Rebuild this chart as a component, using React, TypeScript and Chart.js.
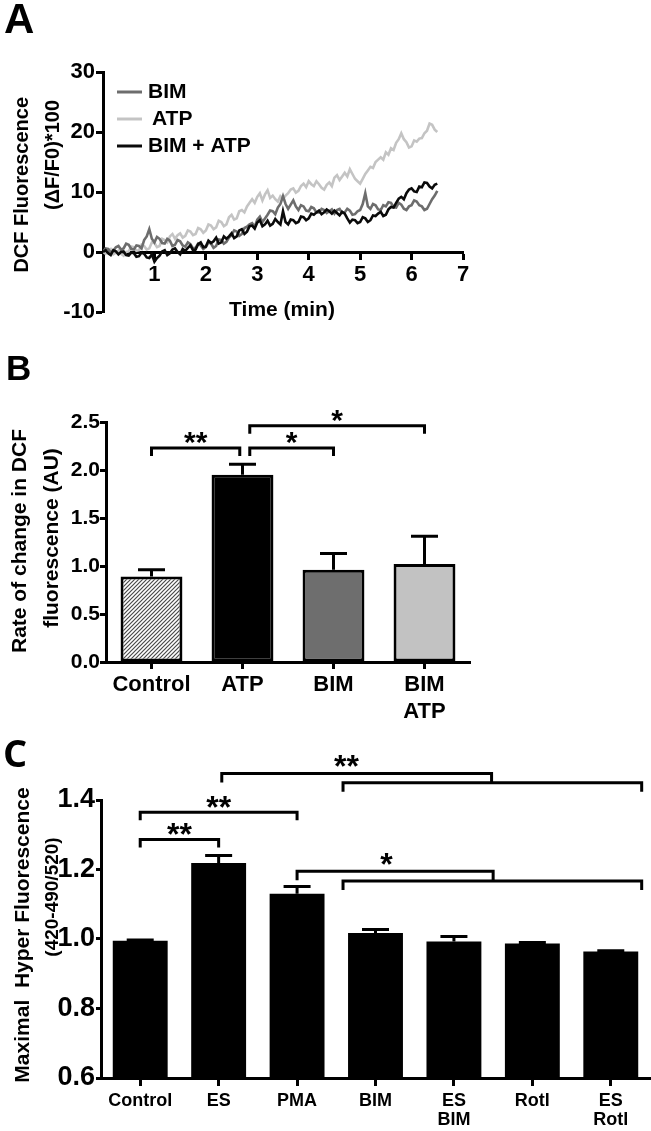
import React, { useEffect, useRef } from 'react';
import { Chart, registerables } from 'chart.js';

Chart.register(...registerables);

const SANS = '"Liberation Sans", Arial, sans-serif';

// ---------- Panel A : DCF fluorescence traces ----------
const timeMin = [
  0, 0.05, 0.1, 0.15, 0.2, 0.25, 0.3, 0.35, 0.4, 0.45,
  0.5, 0.55, 0.6, 0.65, 0.7, 0.75, 0.8, 0.85, 0.9, 0.95,
  1.0, 1.05, 1.1, 1.15, 1.2, 1.25, 1.3, 1.35, 1.4, 1.45,
  1.5, 1.55, 1.6, 1.65, 1.7, 1.75, 1.8, 1.85, 1.9, 1.95,
  2.0, 2.05, 2.1, 2.15, 2.2, 2.25, 2.3, 2.35, 2.4, 2.45,
  2.5, 2.55, 2.6, 2.65, 2.7, 2.75, 2.8, 2.85, 2.9, 2.95,
  3.0, 3.05, 3.1, 3.15, 3.2, 3.25, 3.3, 3.35, 3.4, 3.45,
  3.5, 3.55, 3.6, 3.65, 3.7, 3.75, 3.8, 3.85, 3.9, 3.95,
  4.0, 4.05, 4.1, 4.15, 4.2, 4.25, 4.3, 4.35, 4.4, 4.45,
  4.5, 4.55, 4.6, 4.65, 4.7, 4.75, 4.8, 4.85, 4.9, 4.95,
  5.0, 5.05, 5.1, 5.15, 5.2, 5.25, 5.3, 5.35, 5.4, 5.45,
  5.5, 5.55, 5.6, 5.65, 5.7, 5.75, 5.8, 5.85, 5.9, 5.95,
  6.0, 6.05, 6.1, 6.15, 6.2, 6.25, 6.3, 6.35, 6.4, 6.45,
  6.5,
];
const bimTrace = [
  0, 0.6, 0.5, -0.1, 0.2, 0.8, 1.0, 0.4, 0.6, 1.4,
  1.2, 0.5, 0.4, 1.1, 1.0, 0.6, 2.0, 2.6, 3.8, 2.2,
  1.6, 2.5, 2.2, 1.5, 1.4, 2.2, 1.9, 1.0, 1.2, 2.0,
  1.8, 1.1, 0.9, 1.6, 1.3, 0.6, 0.7, 1.4, 1.1, 0.5,
  0.8, 1.6, 1.4, 0.7, 1.0, 2.1, 2.0, 1.4, 1.7, 2.4,
  2.8, 3.6, 3.4, 2.7, 3.0, 4.0, 4.2, 4.6, 4.8, 4.2,
  5.4, 5.9, 5.0, 5.6, 6.2, 6.9, 6.8, 6.3, 7.4, 8.0,
  9.3, 8.0, 7.2, 7.9, 8.6, 7.6, 7.0, 7.8, 7.6, 6.9,
  6.8, 7.5, 7.3, 6.6, 6.6, 7.2, 7.0, 6.5, 6.8, 7.1,
  6.4, 7.0, 7.2, 6.5, 6.6, 7.2, 6.9, 6.2, 6.3, 6.8,
  7.0, 8.0, 9.8, 7.6, 7.2, 8.0, 7.8, 7.1, 7.0, 7.8,
  7.6, 8.3, 8.2, 7.5, 7.4, 8.2, 7.9, 7.2, 7.0, 7.6,
  7.8, 8.6, 8.4, 7.8, 7.6, 7.0, 7.2, 8.0, 8.8, 9.4,
  10.2,
];
const atpTrace = [
  0, -0.3, 0.3, 0.5, -0.4, -0.1, 0.2, -0.3, -0.6, 0.0,
  0.1, 0.9, 0.8, 0.2, 0.3, 1.2, 1.0, 0.4, 0.6, 1.6,
  1.5, 0.8, 1.0, 2.2, 2.0, 1.6, 2.6, 3.0, 2.2, 2.8,
  3.1, 2.4, 2.7, 3.6, 3.4, 2.8, 3.0, 4.0, 3.8, 3.2,
  3.6, 4.6, 4.4, 3.8, 4.1, 5.2, 5.0, 4.3, 4.6, 5.8,
  6.2, 5.4, 5.6, 6.8, 7.0, 6.6, 7.6, 8.2, 8.8, 8.2,
  9.2, 9.8, 8.6, 9.6, 10.3, 9.0, 9.4, 8.8, 8.4, 9.3,
  8.9, 9.4, 9.8, 10.4, 10.6, 9.9, 10.2, 11.0, 11.4, 10.8,
  11.8, 11.3, 11.0, 11.8, 11.3, 10.7, 10.4, 11.2, 11.6, 11.0,
  12.4, 12.8, 12.0, 12.6, 13.2, 12.6, 13.8, 13.0, 12.2, 11.8,
  11.4, 12.2, 13.0, 13.6, 14.2, 14.0, 15.0, 15.4, 15.8, 15.4,
  16.6, 16.2, 17.3, 17.0, 18.2, 18.8, 19.8, 18.8, 18.3, 17.4,
  17.6, 18.6, 18.4, 18.9, 19.0, 19.8, 20.2, 21.4, 21.2, 20.4,
  20.0,
];
const bimAtpTrace = [
  0, 0.3, -0.2, -0.5, 0.3, 0.1, -0.4, 0.0, 0.1, -0.5,
  -0.6, -0.1, -0.2, -0.8, -0.7, -0.1, -0.3, -0.9, -1.0, -0.4,
  -1.6, -1.0, -0.6, 0.1, 0.3, -0.5, -0.2, 0.4, 0.6, 0.0,
  -0.4, 0.5, 0.2, 0.7, 1.1, 0.3, 0.4, 1.3, 1.6, 0.8,
  0.9, 1.9, 1.5, 1.8, 2.4, 1.4, 1.6, 2.6, 2.2, 2.6,
  3.1, 2.3, 2.6, 3.6, 3.8, 3.0, 3.4, 4.3, 4.4, 3.9,
  4.9, 5.3, 4.3, 4.6, 5.2, 4.4, 4.7, 5.5, 5.0, 4.6,
  6.8, 5.0, 4.6, 5.4, 5.3, 4.8, 5.0, 5.9, 5.8, 5.3,
  5.6, 6.4, 6.2, 6.6, 6.9, 6.3, 6.6, 7.1, 6.8, 6.4,
  6.9, 6.5, 6.1, 6.7, 6.4, 5.6, 4.9, 5.4, 5.3, 4.8,
  5.0, 5.8, 5.6, 5.0, 5.3, 6.1, 6.0, 6.4, 6.7, 6.0,
  6.2, 7.1, 7.5, 7.4, 8.2, 8.9, 9.2, 8.8, 9.8, 10.4,
  10.6, 10.1, 10.0, 10.9, 10.8, 11.6, 11.5, 10.9, 10.6, 11.2,
  11.4,
];
const traceLabels = ['BIM', 'ATP', 'BIM + ATP'];
const traceColors = ['#6d6d6d', '#c4c4c4', '#0a0a0a'];

// ---------- Panel B : rate of change ----------
const catsB = ['Control', 'ATP', 'BIM', ['BIM', 'ATP']];
const rateMean = [0.89, 1.95, 0.96, 1.02];
const rateSem = [0.07, 0.11, 0.17, 0.29];
const sigB = [
  { from: 0, to: 0.97, y: 2.23, stars: '**' },
  { from: 1.08, to: 2, y: 2.23, stars: '*' },
  { from: 1.08, to: 3, y: 2.46, stars: '*' },
];

// ---------- Panel C : HyPer fluorescence ----------
const catsC = ['Control', 'ES', 'PMA', 'BIM', ['ES', 'BIM'], 'Rotl', ['ES', 'Rotl']];
const hyperMean = [0.995, 1.219, 1.13, 1.017, 0.993, 0.987, 0.964];
const hyperSem = [0.002, 0.021, 0.021, 0.01, 0.014, 0.003, 0.002];
const sigPairsC = [
  { from: 0, to: 1, y: 1.286, stars: '**' },
  { from: 0, to: 2, y: 1.365, stars: '**' },
];
const sigGroupsC = [
  { from: 1.04, join: 4.48, y: 1.476, lowFrom: 2.586, lowTo: 6.394, lowY: 1.45, stars: '**', starAt: 2.63 },
  { from: 2.0, join: 4.5, y: 1.195, lowFrom: 2.586, lowTo: 6.394, lowY: 1.167, stars: '*', starAt: 3.14 },
];

const bold = (size: number, lineHeight?: number) =>
  ({ family: SANS, size, weight: 'bold' as const, ...(lineHeight ? { lineHeight } : {}) });

type TextItem = {
  text: string; x: number; y: number; font: string;
  rot?: boolean; align?: CanvasTextAlign; baseline?: CanvasTextBaseline;
};

function textPlugin(id: string, items: TextItem[]) {
  return {
    id,
    afterDraw(chart: any) {
      const ctx: CanvasRenderingContext2D = chart.ctx;
      items.forEach((it) => {
        ctx.save();
        ctx.fillStyle = '#000';
        ctx.font = it.font;
        ctx.translate(it.x, it.y);
        if (it.rot) ctx.rotate(-Math.PI / 2);
        ctx.textAlign = it.align || 'center';
        ctx.textBaseline = it.baseline || 'middle';
        ctx.fillText(it.text, 0, 0);
        ctx.restore();
      });
    },
  };
}

function errorBarPlugin(means: number[], sems: number[], capW: number) {
  return {
    id: 'errbars',
    afterDatasetsDraw(chart: any) {
      const ctx: CanvasRenderingContext2D = chart.ctx;
      const meta = chart.getDatasetMeta(0);
      const ys = chart.scales.y;
      ctx.save();
      ctx.strokeStyle = '#000';
      ctx.lineWidth = 3;
      meta.data.forEach((bar: any, i: number) => {
        const x = bar.x;
        const y0 = ys.getPixelForValue(means[i]);
        const y1 = ys.getPixelForValue(means[i] + sems[i]);
        ctx.beginPath();
        ctx.moveTo(x, y0);
        ctx.lineTo(x, y1);
        ctx.moveTo(x - capW / 2, y1);
        ctx.lineTo(x + capW / 2, y1);
        ctx.stroke();
      });
      ctx.restore();
    },
  };
}

function drawStars(ctx: CanvasRenderingContext2D, text: string, x: number, lineY: number, size: number) {
  ctx.font = `bold ${size}px ${SANS}`;
  ctx.textAlign = 'center';
  ctx.textBaseline = 'alphabetic';
  ctx.fillText(text, x, lineY - 12 + size * 0.55);
}

function pairBracketPlugin(list: { from: number; to: number; y: number; stars: string }[], drop: number, starSize: number) {
  return {
    id: 'pairs',
    afterDraw(chart: any) {
      const ctx: CanvasRenderingContext2D = chart.ctx;
      const xs = chart.scales.x;
      const ys = chart.scales.y;
      ctx.save();
      ctx.strokeStyle = '#000';
      ctx.fillStyle = '#000';
      ctx.lineWidth = 3;
      ctx.lineJoin = 'miter';
      list.forEach((b) => {
        const x1 = xs.getPixelForValue(b.from);
        const x2 = xs.getPixelForValue(b.to);
        const y = ys.getPixelForValue(b.y);
        ctx.beginPath();
        ctx.moveTo(x1, y + drop);
        ctx.lineTo(x1, y);
        ctx.lineTo(x2, y);
        ctx.lineTo(x2, y + drop);
        ctx.stroke();
        drawStars(ctx, b.stars, (x1 + x2) / 2, y, starSize);
      });
      ctx.restore();
    },
  };
}

function groupBracketPlugin(list: typeof sigGroupsC, drop: number, starSize: number) {
  return {
    id: 'groups',
    afterDraw(chart: any) {
      const ctx: CanvasRenderingContext2D = chart.ctx;
      const xs = chart.scales.x;
      const ys = chart.scales.y;
      ctx.save();
      ctx.strokeStyle = '#000';
      ctx.fillStyle = '#000';
      ctx.lineWidth = 3;
      list.forEach((g) => {
        const xl = xs.getPixelForValue(g.from);
        const xj = xs.getPixelForValue(g.join);
        const y1 = ys.getPixelForValue(g.y);
        const y2 = ys.getPixelForValue(g.lowY);
        const xa = xs.getPixelForValue(g.lowFrom);
        const xb = xs.getPixelForValue(g.lowTo);
        ctx.beginPath();
        ctx.moveTo(xl, y1 + drop);
        ctx.lineTo(xl, y1);
        ctx.lineTo(xj, y1);
        ctx.lineTo(xj, y2);
        ctx.stroke();
        ctx.beginPath();
        ctx.moveTo(xa, y2 + drop);
        ctx.lineTo(xa, y2);
        ctx.lineTo(xb, y2);
        ctx.lineTo(xb, y2 + drop);
        ctx.stroke();
        drawStars(ctx, g.stars, xs.getPixelForValue(g.starAt), y1 - 2, starSize);
      });
      ctx.restore();
    },
  };
}

const legendPluginA = {
  id: 'legendA',
  afterDraw(chart: any) {
    const ctx: CanvasRenderingContext2D = chart.ctx;
    const rows = [92, 119, 146];
    ctx.save();
    ctx.font = `bold 21px ${SANS}`;
    ctx.textAlign = 'left';
    ctx.textBaseline = 'middle';
    chart.data.datasets.forEach((ds: any, i: number) => {
      ctx.strokeStyle = ds.borderColor;
      ctx.lineWidth = 3;
      ctx.beginPath();
      ctx.moveTo(117, rows[i]);
      ctx.lineTo(142, rows[i]);
      ctx.stroke();
      ctx.fillStyle = '#000';
      ctx.fillText(ds.label, i === 1 ? 152 : 148, rows[i]);
    });
    ctx.restore();
  },
};

const axisGrid = (tickLength: number) => ({
  display: true,
  drawOnChartArea: false,
  drawTicks: true,
  tickLength,
  tickWidth: 3,
  tickColor: '#000',
  color: '#000',
  offset: false,
});
const axisBorder = { display: true, color: '#000', width: 3 };

export default function App() {
  const refA = useRef<HTMLCanvasElement>(null);
  const refB = useRef<HTMLCanvasElement>(null);
  const refC = useRef<HTMLCanvasElement>(null);

  useEffect(() => {
    Chart.defaults.color = '#000';
    Chart.defaults.font.family = SANS;
    const charts: Chart[] = [];

    // ----- Panel A -----
    const seriesA = [bimTrace, atpTrace, bimAtpTrace];
    charts.push(
      new Chart(refA.current!, {
        type: 'line',
        data: {
          datasets: seriesA.map((vals, k) => ({
            label: traceLabels[k],
            data: timeMin.map((t, i) => ({ x: t, y: vals[i] })),
            borderColor: traceColors[k],
            backgroundColor: traceColors[k],
            borderWidth: 2.6,
            pointRadius: 0,
            tension: 0,
            order: k === 2 ? 0 : k === 0 ? 1 : 2,
          })),
        },
        options: {
          animation: false,
          responsive: false,
          maintainAspectRatio: false,
          layout: { padding: { top: 72, bottom: 18, right: 188, left: 0 } },
          plugins: { legend: { display: false }, tooltip: { enabled: false } },
          scales: {
            x: {
              type: 'linear',
              min: 0,
              max: 7,
              position: { y: 0 } as any,
              border: axisBorder,
              grid: axisGrid(6),
              ticks: {
                stepSize: 1,
                padding: 4,
                color: '#000',
                font: bold(22),
                callback: (v: any) => (Number(v) === 0 ? '' : String(v)),
              },
            },
            y: {
              position: 'left',
              min: -10,
              max: 30,
              border: axisBorder,
              grid: axisGrid(7),
              ticks: { stepSize: 10, padding: 1, color: '#000', font: bold(22) },
              afterFit: (s: any) => { s.width = 103; },
            },
          },
        },
        plugins: [
          legendPluginA,
          textPlugin('textA', [
            { text: 'A', x: 4, y: 33, font: `bold 42px ${SANS}`, align: 'left', baseline: 'alphabetic' },
            { text: 'DCF Fluorescence', x: 22, y: 97, font: `bold 20px ${SANS}`, rot: true, align: 'right' },
            { text: '(\u0394F/F0)*100', x: 53, y: 100, font: `bold 20px ${SANS}`, rot: true, align: 'right' },
            { text: 'Time (min)', x: 282, y: 310, font: `bold 21px ${SANS}` },
          ]),
        ],
      } as any)
    );

    // ----- Panel B -----
    const tile = document.createElement('canvas');
    tile.width = 4;
    tile.height = 4;
    const tctx = tile.getContext('2d')!;
    tctx.fillStyle = '#ffffff';
    tctx.fillRect(0, 0, 4, 4);
    tctx.strokeStyle = '#4a4a4a';
    tctx.lineWidth = 1.2;
    tctx.beginPath();
    tctx.moveTo(-1, 5); tctx.lineTo(5, -1);
    tctx.moveTo(-1, 1); tctx.lineTo(1, -1);
    tctx.moveTo(3, 5); tctx.lineTo(5, 3);
    tctx.stroke();
    const ctxB = refB.current!.getContext('2d')!;
    const hatch = ctxB.createPattern(tile, 'repeat');

    charts.push(
      new Chart(refB.current!, {
        type: 'bar',
        data: {
          labels: catsB,
          datasets: [
            {
              data: rateMean,
              backgroundColor: [hatch, '#000000', '#6e6e6e', '#c2c2c2'],
              borderColor: '#000',
              borderWidth: 3,
              borderSkipped: false,
              barPercentage: 0.68,
              categoryPercentage: 1,
            },
          ],
        },
        options: {
          animation: false,
          responsive: false,
          maintainAspectRatio: false,
          layout: { padding: { top: 92, bottom: 0, right: 181, left: 0 } },
          plugins: { legend: { display: false }, tooltip: { enabled: false } },
          scales: {
            x: {
              border: axisBorder,
              grid: axisGrid(7),
              ticks: { padding: 3, color: '#000', font: bold(22) },
              afterFit: (s: any) => { s.height = 58; },
            },
            y: {
              min: 0,
              max: 2.5,
              border: axisBorder,
              grid: axisGrid(6),
              ticks: {
                stepSize: 0.5,
                padding: 0,
                color: '#000',
                font: bold(21),
                callback: (v: any) => Number(v).toFixed(1),
              },
              afterFit: (s: any) => { s.width = 106; },
            },
          },
        },
        plugins: [
          errorBarPlugin(rateMean, rateSem, 27),
          pairBracketPlugin(sigB, 8, 30),
          textPlugin('textB', [
            { text: 'B', x: 6, y: 50, font: `bold 35px ${SANS}`, align: 'left', baseline: 'alphabetic' },
            { text: 'Rate of change in DCF', x: 20, y: 211, font: `bold 21px ${SANS}`, rot: true },
            { text: 'fluorescence (AU)', x: 52, y: 208, font: `bold 21px ${SANS}`, rot: true },
          ]),
        ],
      } as any)
    );

    // ----- Panel C -----
    charts.push(
      new Chart(refC.current!, {
        type: 'bar',
        data: {
          labels: catsC,
          datasets: [
            {
              data: hyperMean,
              base: 0.6,
              backgroundColor: '#000000',
              borderColor: '#000',
              borderWidth: 0,
              barPercentage: 0.7,
              categoryPercentage: 1,
            },
          ],
        },
        options: {
          animation: false,
          responsive: false,
          maintainAspectRatio: false,
          layout: { padding: { top: 80, bottom: 0, right: 1, left: 0 } },
          plugins: { legend: { display: false }, tooltip: { enabled: false } },
          scales: {
            x: {
              border: axisBorder,
              grid: axisGrid(8),
              ticks: { padding: 6, color: '#000', font: bold(18, 1.05) },
              afterFit: (s: any) => { s.height = 53; },
            },
            y: {
              min: 0.6,
              max: 1.4,
              border: axisBorder,
              grid: axisGrid(5),
              ticks: {
                stepSize: 0.2,
                padding: 1,
                color: '#000',
                font: bold(27),
                callback: (v: any) => Number(v).toFixed(1),
              },
              afterFit: (s: any) => { s.width = 101; },
            },
          },
        },
        plugins: [
          errorBarPlugin(hyperMean, hyperSem, 27),
          pairBracketPlugin(sigPairsC, 8, 32),
          groupBracketPlugin(sigGroupsC, 9, 32),
          textPlugin('textC', [
            { text: 'C', x: 3, y: 47, font: `bold 38px "Open Sans", ${SANS}`, align: 'left', baseline: 'alphabetic' },
            { text: 'Maximal  Hyper Fluorescence', x: 23, y: 215, font: `bold 21px ${SANS}`, rot: true },
            { text: '(420-490/520)', x: 53, y: 177, font: `bold 19px ${SANS}`, rot: true },
          ]),
        ],
      } as any)
    );

    return () => charts.forEach((c) => c.destroy());
  }, []);

  return (
    <div style={{ position: 'absolute', left: 0, top: 0, width: 651, height: 1131, background: '#fff' }}>
      <canvas ref={refA} width={651} height={330} style={{ position: 'absolute', left: 0, top: 0 }} />
      <canvas ref={refB} width={651} height={390} style={{ position: 'absolute', left: 0, top: 330 }} />
      <canvas ref={refC} width={651} height={411} style={{ position: 'absolute', left: 0, top: 720 }} />
    </div>
  );
}
